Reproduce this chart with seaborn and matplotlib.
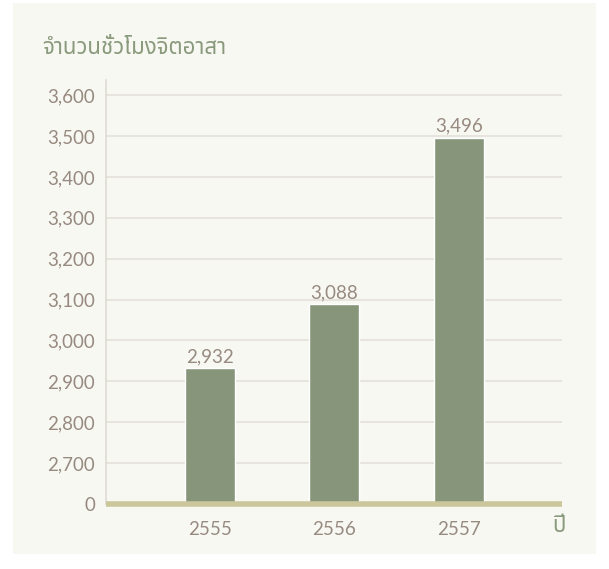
import matplotlib
matplotlib.use("Agg")
import matplotlib.pyplot as plt
from matplotlib import font_manager
from matplotlib.ft2font import FT2Font
from matplotlib.patches import Rectangle
import seaborn as sns
import pandas as pd

# Data
years = ["2555", "2556", "2557"]
hours = [2932, 3088, 3496]
tick_values = [0, 2700, 2800, 2900, 3000, 3100, 3200, 3300, 3400, 3500, 3600]
title_text = "จำนวนชั่วโมงจิตอาสา"
xlabel_text = "ปี"

# Broken axis: 0 sits one step below 2,700, the rest runs in steps of 100
def to_pos(v):
    return 0.0 if v == 0 else (v - 2600) / 100.0


def find_thai_font():
    preferred = ["Noto Sans Thai", "Noto Sans Thai UI", "Noto Looped Thai", "Sarabun",
                 "Loma", "Garuda", "Norasi", "Kinnari", "Waree", "Umpush", "Tlwg Typo"]
    found = {}
    for f in font_manager.fontManager.ttflist:
        try:
            cmap = FT2Font(f.fname).get_charmap()
        except Exception:
            continue
        if 0x0E08 in cmap and 0x0E33 in cmap:
            found.setdefault(f.name, f.fname)
    for p in preferred:
        if p in found:
            return p
    return next(iter(found), "DejaVu Sans")


sns.set_theme(style="white")
thai = find_thai_font()
latin = "Lato"
plt.rcParams["font.family"] = [latin, thai, "DejaVu Sans"]

W, H = 609, 569
fig = plt.figure(figsize=(W / 100, H / 100), dpi=100, facecolor="white")
fig.patches.append(Rectangle((13 / W, 1 - 554 / H), (596 - 13) / W, (554 - 3) / H,
                             transform=fig.transFigure, facecolor="#f8f8f3",
                             edgecolor="none", zorder=-10))

ax = fig.add_axes([106 / W, 1 - 504 / H, (562 - 106) / W, (504 - 80) / H])
ax.set_facecolor("none")
ax.set_zorder(1)

df = pd.DataFrame({"year": years, "pos": [to_pos(v) for v in hours], "hours": hours})
sns.barplot(data=df, x="year", y="pos", order=years, color="#87967a",
            saturation=1, width=0.4, ax=ax, zorder=3)

ax.set_xlim(-0.835, 2.83)
ax.set_ylim(0, 10.37)

ticks = [to_pos(v) for v in tick_values]
ax.set_yticks(ticks)
ax.set_yticklabels([f"{v:,}" for v in tick_values])
for t in ticks[1:]:
    ax.axhline(t, color="#e2ddd7", lw=1.1, zorder=1)
ax.axhline(0, color="#cbc69c", lw=4, zorder=4, clip_on=False, solid_capstyle="butt")

for s in ["top", "right", "bottom"]:
    ax.spines[s].set_visible(False)
ax.spines["left"].set_color("#ddd8d2")
ax.spines["left"].set_linewidth(1.1)

ax.tick_params(axis="y", length=0, pad=8, labelsize=13.5, labelcolor="#978a80")
ax.tick_params(axis="x", length=0, pad=12, labelsize=13.5, labelcolor="#978a80")
ax.set_xlabel("")
ax.set_ylabel("")

for i, (p, v) in enumerate(zip(df["pos"], hours)):
    ax.annotate(f"{v:,}", (i, p), xytext=(0, 2), textcoords="offset points",
                ha="center", va="bottom", fontsize=13.5, color="#978a80", zorder=5)

fig.text(42 / W, 1 - 48 / H, title_text, ha="left", va="center",
         fontsize=16, color="#8a9a7c", family=[thai, latin])
fig.text(552 / W, 1 - 526 / H, xlabel_text, ha="left", va="center",
         fontsize=16, color="#8a9a7c", family=[thai, latin])

fig.savefig("out.png", dpi=100, facecolor="white")
